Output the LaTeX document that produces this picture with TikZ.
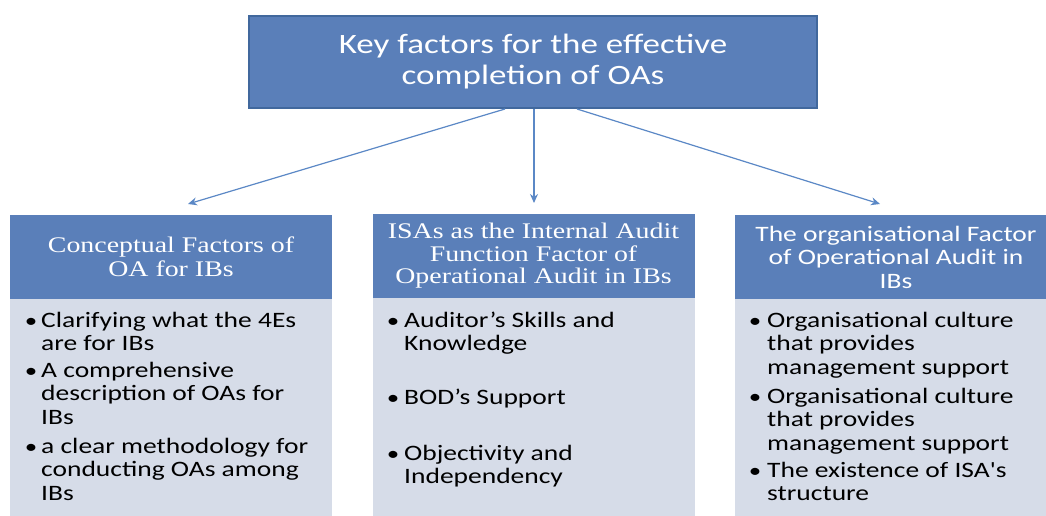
\documentclass[tikz,border=0pt]{standalone}
\usepackage{fontspec}
\setmainfont{Carlito}[FakeStretch=1.25]
\newfontfamily\plaincarlito{Carlito}[FakeStretch=1.25]
\newfontfamily\serifhead{Liberation Serif}[FakeStretch=1.25]
\usetikzlibrary{arrows.meta,calc}
\definecolor{hdr}{HTML}{5A7FB9}
\definecolor{hdrdark}{HTML}{41689D}
\definecolor{bodyfill}{HTML}{D6DCE8}
\definecolor{arrowc}{HTML}{5B88C6}
\newcommand\itemlines[1]{\begin{tabular}[t]{@{}l@{}}#1\end{tabular}}
\begin{document}
\begin{tikzpicture}[x=1pt,y=-1pt,
  topbox/.style={rectangle, fill=hdr, draw=hdrdark, line width=2pt, minimum width=568pt, minimum height=92pt, inner sep=0pt, align=center, text=white, font=\fontsize{28}{31}\selectfont},
  hdrbox/.style={rectangle, fill=hdr, minimum width=322pt, minimum height=84pt, inner sep=0pt, align=center, text=white},
  bodybox/.style={rectangle, fill=bodyfill, minimum width=322pt, minimum height=240pt, inner sep=0pt, anchor=north},
  itemtext/.style={inner sep=0pt, anchor=base west, font=\fontsize{22}{23.5}\selectfont},
  bul/.style={inner sep=0pt, anchor=base, font=\fontsize{20}{23.5}\selectfont},
  conn/.style={draw=arrowc, line width=1.2pt, -{Stealth[length=9pt,width=8pt]}}
]
\useasboundingbox (0,0) rectangle (1046,516);
\fill[white] (0,0) rectangle (1046,516);

% top box
\node[topbox] (top) at (533,62) {Key factors for the effective\\completion of OAs};

% arrow tips
\coordinate (aL) at (188,204);
\coordinate (aM) at (534,203);
\coordinate (aR) at (880,204);
\draw[conn] ($(top.south)+(-28,0)$) -- (aL);
\draw[conn] ($(top.south)+(1,0)$) -- (aM);
\draw[conn] ($(top.south)+(44,0)$) -- (aR);

% columns: bodies then headers
\node[bodybox] (b1) at (171,298) {};
\node[bodybox] (b2) at (533.5,298) {};
\node[bodybox] (b3) at (896,298) {};

\node[hdrbox, font=\serifhead\fontsize{22.3}{24.5}\selectfont] (h1) at (171,257) {Conceptual Factors of\\OA for IBs};
\node[hdrbox, font=\serifhead\fontsize{22.3}{22.5}\selectfont] (h2) at (533.5,256) {ISAs as the Internal Audit\\Function Factor of\\Operational Audit in IBs};
\node[hdrbox, font=\fontsize{22}{23.5}\selectfont] (h3) at (896,257) {The organisational Factor\\of Operational Audit in\\IBs};

% left items
\node[bul] (lb1) at (31,327) {\textbullet};
\node[itemtext] (l1) at (41,327) {\itemlines{Clarifying what the 4Es\\are for IBs}};
\node[bul] (lb2) at (31,377) {\textbullet};
\node[itemtext] (l2) at (41,377) {\itemlines{A comprehensive\\description of OAs for\\IBs}};
\node[bul] (lb3) at (31,453) {\textbullet};
\node[itemtext] (l3) at (41,453) {\itemlines{a clear methodology for\\conducting OAs among\\IBs}};

% middle items
\node[bul] (mb1) at (393,327) {\textbullet};
\node[itemtext] (m1) at (404,327) {\itemlines{Auditor’s Skills and\\Knowledge}};
\node[bul] (mb2) at (393,404) {\textbullet};
\node[itemtext] (m2) at (404,404) {\itemlines{BOD’s Support}};
\node[bul] (mb3) at (393,460) {\textbullet};
\node[itemtext] (m3) at (404,460) {\itemlines{Objectivity and\\Independency}};

% right items
\node[bul] (rb1) at (755,327) {\textbullet};
\node[itemtext] (r1) at (767,327) {\itemlines{Organisational culture\\that provides\\management support}};
\node[bul] (rb2) at (755,403) {\textbullet};
\node[itemtext] (r2) at (767,403) {\itemlines{Organisational culture\\that provides\\management support}};
\node[bul] (rb3) at (755,477) {\textbullet};
\node[itemtext] (r3) at (767,477) {\itemlines{The existence of ISA{\plaincarlito '}s\\structure}};
\end{tikzpicture}
\end{document}
